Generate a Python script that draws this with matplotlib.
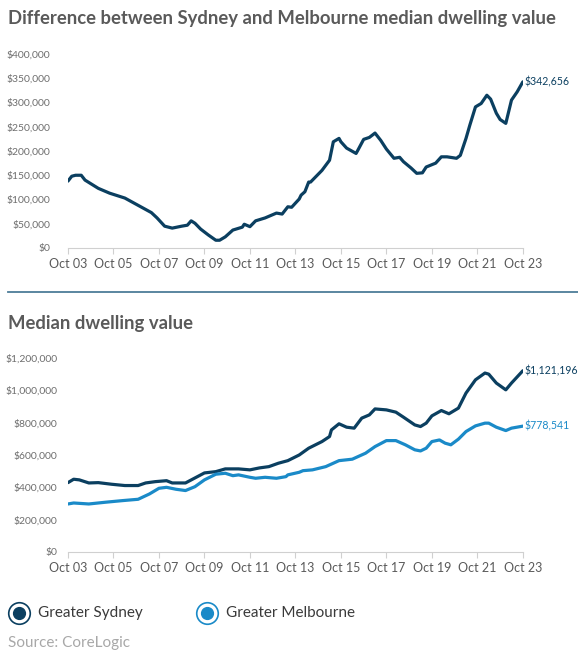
import numpy as np
import pandas as pd
import matplotlib
matplotlib.use("Agg")
import matplotlib.pyplot as plt
from matplotlib.lines import Line2D
from matplotlib.ticker import FuncFormatter

plt.rcParams["font.family"] = ["Lato", "DejaVu Sans"]

# Sydney minus Melbourne median dwelling value
gap_dates = [
    "2003-10", "2003-12", "2004-02", "2004-05", "2004-07", "2005-02", "2005-08",
    "2006-04", "2006-11", "2007-06", "2007-09", "2008-01", "2008-05", "2008-10",
    "2009-01", "2009-03", "2009-05", "2009-08", "2009-12", "2010-04", "2010-06",
    "2010-09", "2011-01", "2011-06", "2011-07", "2011-10", "2012-01", "2012-06",
    "2012-12", "2013-03", "2013-06", "2013-08", "2013-12", "2014-01", "2014-03",
    "2014-05", "2014-06", "2014-12", "2015-04", "2015-06", "2015-09", "2015-10",
    "2016-01", "2016-06", "2016-07", "2016-10", "2017-01", "2017-04", "2017-07",
    "2017-10", "2018-02", "2018-05", "2018-07", "2018-11", "2019-02", "2019-05",
    "2019-07", "2019-12", "2020-03", "2020-06", "2020-11", "2021-01", "2021-04",
    "2021-06", "2021-09", "2021-12", "2022-03", "2022-05", "2022-08", "2022-10",
    "2023-01", "2023-04", "2023-07", "2023-10",
]
gap_values = [
    138000, 148000, 150000, 150000, 140000, 123000, 113000,
    103000, 88000, 73000, 62000, 45000, 41000, 45000,
    47000, 56000, 51000, 39000, 27000, 16000, 16000,
    23000, 37000, 43000, 49000, 44000, 56000, 62000,
    72000, 70000, 85000, 84000, 101000, 109000, 116000,
    136000, 136000, 160000, 181000, 219000, 226000, 219000,
    206000, 195000, 202000, 224000, 228000, 237000, 222000,
    204000, 185000, 187000, 178000, 165000, 154000, 155000,
    167000, 175000, 188000, 188000, 185000, 191000, 226000,
    253000, 291000, 298000, 315000, 307000, 278000, 265000,
    257000, 305000, 322000, 342656,
]

syd_dates = [
    "2003-10", "2004-01", "2004-04", "2004-09", "2005-02", "2005-09", "2006-04",
    "2006-11", "2007-03", "2007-08", "2008-02", "2008-05", "2008-12", "2009-05",
    "2009-10", "2010-04", "2010-09", "2011-04", "2011-10", "2012-03", "2012-08",
    "2013-01", "2013-06", "2013-12", "2014-05", "2014-12", "2015-04", "2015-05",
    "2015-09", "2016-01", "2016-05", "2016-09", "2017-01", "2017-04", "2017-10",
    "2018-03", "2018-07", "2019-01", "2019-04", "2019-07", "2019-10", "2020-03",
    "2020-07", "2020-12", "2021-04", "2021-09", "2022-02", "2022-04", "2022-08",
    "2023-01", "2023-04", "2023-10",
]
syd_values = [
    429000, 450000, 446000, 427000, 429000, 419000, 411000,
    411000, 427000, 435000, 441000, 427000, 427000, 458000,
    489000, 497000, 514000, 514000, 508000, 520000, 528000,
    549000, 565000, 600000, 642000, 683000, 714000, 755000,
    793000, 772000, 766000, 828000, 848000, 885000, 879000,
    865000, 834000, 786000, 776000, 797000, 842000, 875000,
    855000, 890000, 983000, 1065000, 1107000, 1100000, 1045000,
    1003000, 1045000, 1121196,
]

mel_dates = [
    "2003-10", "2004-01", "2004-09", "2005-06", "2006-03", "2006-11", "2007-05",
    "2007-10", "2008-02", "2008-07", "2008-12", "2009-05", "2009-10", "2010-04",
    "2010-09", "2011-01", "2011-04", "2011-10", "2012-01", "2012-06", "2012-12",
    "2013-05", "2013-06", "2013-12", "2014-02", "2014-07", "2015-02", "2015-09",
    "2016-04", "2016-11", "2017-04", "2017-10", "2018-03", "2018-08", "2019-01",
    "2019-04", "2019-07", "2019-10", "2020-02", "2020-05", "2020-08", "2020-12",
    "2021-04", "2021-09", "2022-02", "2022-04", "2022-08", "2023-01", "2023-04",
    "2023-10",
]
mel_values = [
    297000, 303000, 297000, 308000, 318000, 326000, 359000,
    394000, 400000, 388000, 380000, 404000, 446000, 481000,
    487000, 472000, 477000, 462000, 456000, 462000, 456000,
    466000, 477000, 493000, 503000, 508000, 528000, 565000,
    574000, 611000, 652000, 689000, 689000, 663000, 632000,
    625000, 642000, 683000, 693000, 673000, 663000, 698000,
    745000, 780000, 797000, 797000, 772000, 751000, 766000,
    778541,
]

tick_years = list(range(2003, 2024, 2))
tick_labels = [f"Oct {y % 100:02d}" for y in tick_years]

SYD = "#0b3f60"
MEL = "#1a8ac8"
GREY = "#5a5a5a"


def to_year(dates):
    d = pd.to_datetime(dates)
    return d.year + (d.month - 1) / 12.0


def style_axis(ax, ymax, step, ypad):
    ax.set_xlim(2003.75, 2023.75)
    ax.set_ylim(0, ymax)
    ax.set_yticks(np.arange(0, ymax + 1, step))
    ax.yaxis.set_major_formatter(FuncFormatter(lambda v, p: f"${v:,.0f}"))
    ax.set_xticks([y + 0.75 for y in tick_years])
    ax.set_xticklabels(tick_labels)
    for s in ["top", "right", "left"]:
        ax.spines[s].set_visible(False)
    ax.spines["bottom"].set_color("#d0d0d0")
    ax.tick_params(axis="y", length=0, pad=ypad, labelsize=7.5, labelcolor="#6e6e6e")
    ax.tick_params(axis="x", length=4, color="#d0d0d0", pad=3, labelsize=9,
                   labelcolor=GREY)


def end_label(ax, x, y, color):
    ax.annotate(f"${y:,}", xy=(x, y), xytext=(1.5, 0), textcoords="offset points",
                va="center", fontsize=7.6, color=color, annotation_clip=False)


fig = plt.figure(figsize=(5.78, 6.54), dpi=100)

# Top panel: the gap
ax1 = fig.add_axes([0.1176, 0.6208, 0.787, 0.2966])
gx = to_year(gap_dates)
ax1.plot(gx, gap_values, color=SYD, linewidth=2.3, solid_capstyle="round")
style_axis(ax1, 400000, 50000, 13)
end_label(ax1, gx[-1], gap_values[-1], SYD)

# Bottom panel: the two cities
ax2 = fig.add_axes([0.1176, 0.156, 0.787, 0.2966])
sx = to_year(syd_dates)
mx = to_year(mel_dates)
ax2.plot(sx, syd_values, color=SYD, linewidth=2.3, solid_capstyle="round")
ax2.plot(mx, mel_values, color=MEL, linewidth=2.3, solid_capstyle="round")
style_axis(ax2, 1200000, 200000, 7.5)
end_label(ax2, sx[-1], syd_values[-1], SYD)
end_label(ax2, mx[-1], mel_values[-1], MEL)

# Titles and divider
fig.text(0.014, 0.972, "Difference between Sydney and Melbourne median dwelling value",
         fontsize=13.3, fontweight="bold", color=GREY, va="center")
fig.text(0.014, 0.506, "Median dwelling value",
         fontsize=13.3, fontweight="bold", color=GREY, va="center")
fig.add_artist(Line2D([0.014, 1.0], [0.5535, 0.5535], color="#4d7d98",
                      linewidth=1.3, transform=fig.transFigure))

# Legend
for x0, col, name in [(0.033, SYD, "Greater Sydney"), (0.358, MEL, "Greater Melbourne")]:
    fig.add_artist(Line2D([x0], [0.063], marker="o", markersize=15.5,
                          markerfacecolor="white", markeredgecolor=col,
                          markeredgewidth=1.2, transform=fig.transFigure))
    fig.add_artist(Line2D([x0], [0.063], marker="o", markersize=8.5,
                          markerfacecolor=col, markeredgecolor=col,
                          transform=fig.transFigure))
    fig.text(x0 + 0.033, 0.063, name, fontsize=11, color="#3a3a3a", va="center")

fig.text(0.014, 0.017, "Source: CoreLogic", fontsize=11, color="#a8a8a8", va="center")

fig.savefig("out.png", dpi=100)
